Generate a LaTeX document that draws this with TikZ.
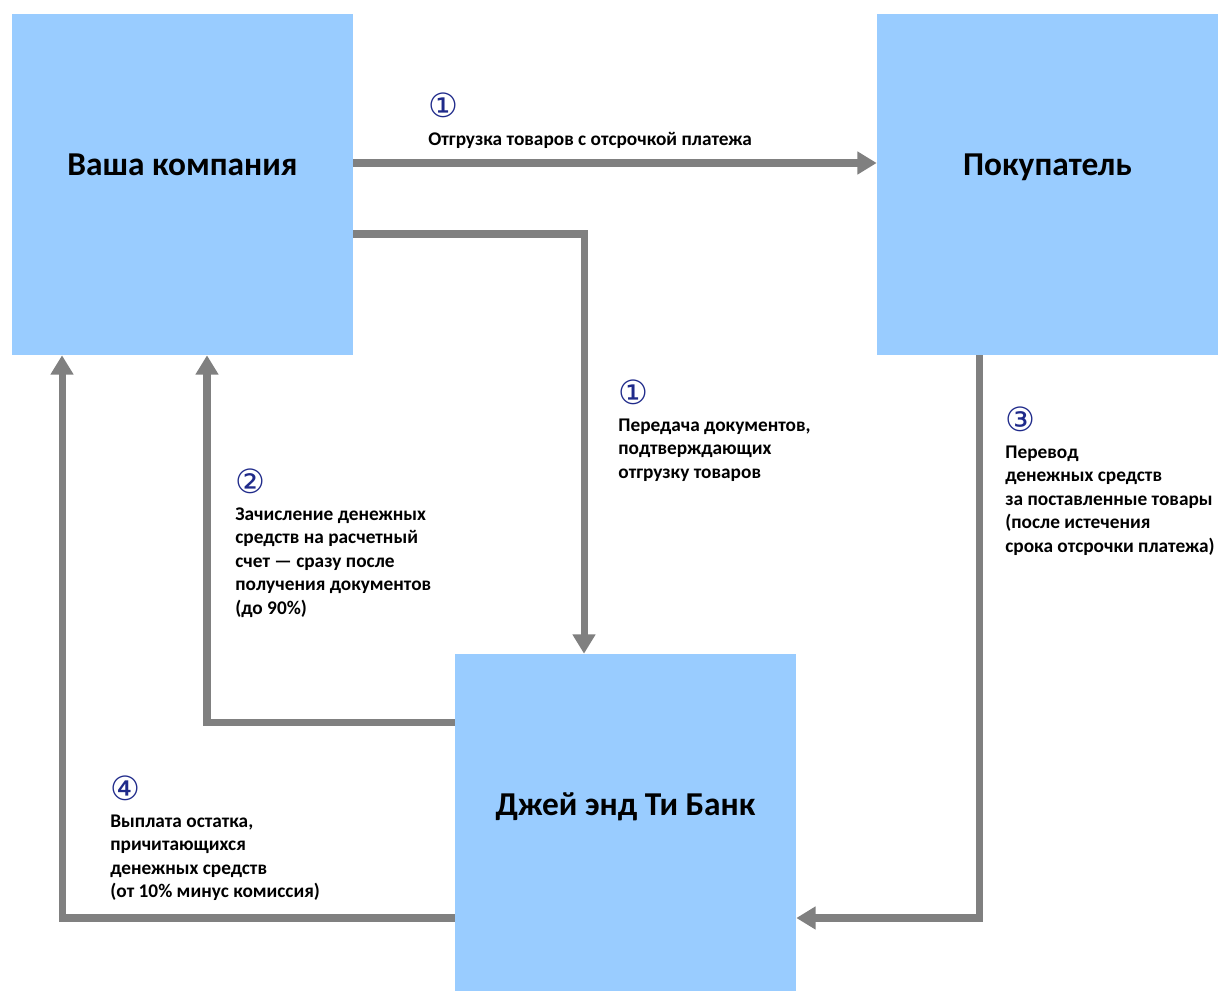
\documentclass[tikz,border=0pt]{standalone}
\usepackage{fontspec}
\setmainfont{Carlito}
\newfontfamily\numfont{DejaVu Sans}
\usetikzlibrary{arrows.meta}
\definecolor{bleu}{HTML}{99CCFF}
\definecolor{gris}{HTML}{808080}
\definecolor{marine}{HTML}{1F2A8A}
\tikzset{
  bloc/.style={fill=bleu,minimum width=6.82cm,minimum height=6.82cm,inner sep=0pt},
  titre/.style={font=\fontsize{19}{22}\selectfont\bfseries,text height=0.7em,text depth=0.25em,yshift=0.25cm},
  fleche/.style={gris,line width=4pt,-{Triangle[length=11pt,width=12.5pt]}},
  texte/.style={anchor=north west,align=left,inner sep=0pt,
    font=\fontsize{11}{13.4}\selectfont\bfseries},
}
\newcommand{\rond}[1]{{\numfont\mdseries\fontsize{19}{19}\selectfont\color{marine}#1}}
\begin{document}
\begin{tikzpicture}[x=0.02cm,y=-0.02cm]
\useasboundingbox (0,0) rectangle (1223,990);
\clip (0,0) rectangle (1223,990);
%					Tracé des blocs :
\node[bloc,label={[titre]center:Ваша компания}] (societe) at (182.5,184.5) {};
\node[bloc,label={[titre]center:Покупатель}] (acheteur) at (1047.5,184.5) {};
\node[bloc,label={[titre]center:Джей энд Ти Банк}] (banque) at (625.5,824.5) {};
%					Tracé des flèches :
\draw[fleche] ([yshift=0.43cm]societe.east) -- ([yshift=0.43cm]acheteur.west);
\draw[fleche] ([yshift=-0.99cm]societe.east) -| ([xshift=-0.83cm]banque.north);
\draw[fleche] ([yshift=2.05cm]banque.west) -| ([xshift=0.49cm]societe.south);
\draw[fleche] ([xshift=-1.37cm]acheteur.south) |- ([yshift=-1.87cm]banque.east);
\draw[fleche] ([yshift=-1.87cm]banque.west) -| ([xshift=-2.41cm]societe.south);
%					Textes :
\node[texte] (t1) at (428,93) {\rond{①}\\[2pt]Отгрузка товаров с отсрочкой платежа};
\node[texte] (t2) at (618,379) {\rond{①}\\[2pt]Передача документов,\\подтверждающих\\отгрузку товаров};
\node[texte] (t3) at (235,468) {\rond{②}\\[2pt]Зачисление денежных\\средств на расчетный\\счет~— сразу после\\получения документов\\(до 90\%)};
\node[texte] (t4) at (1005,406) {\rond{③}\\[2pt]Перевод\\денежных средств\\за поставленные товары\\(после истечения\\срока отсрочки платежа)};
\node[texte] (t5) at (110,775) {\rond{④}\\[2pt]Выплата остатка,\\причитающихся\\денежных средств\\(от 10\% минус комиссия)};
\end{tikzpicture}
\end{document}
